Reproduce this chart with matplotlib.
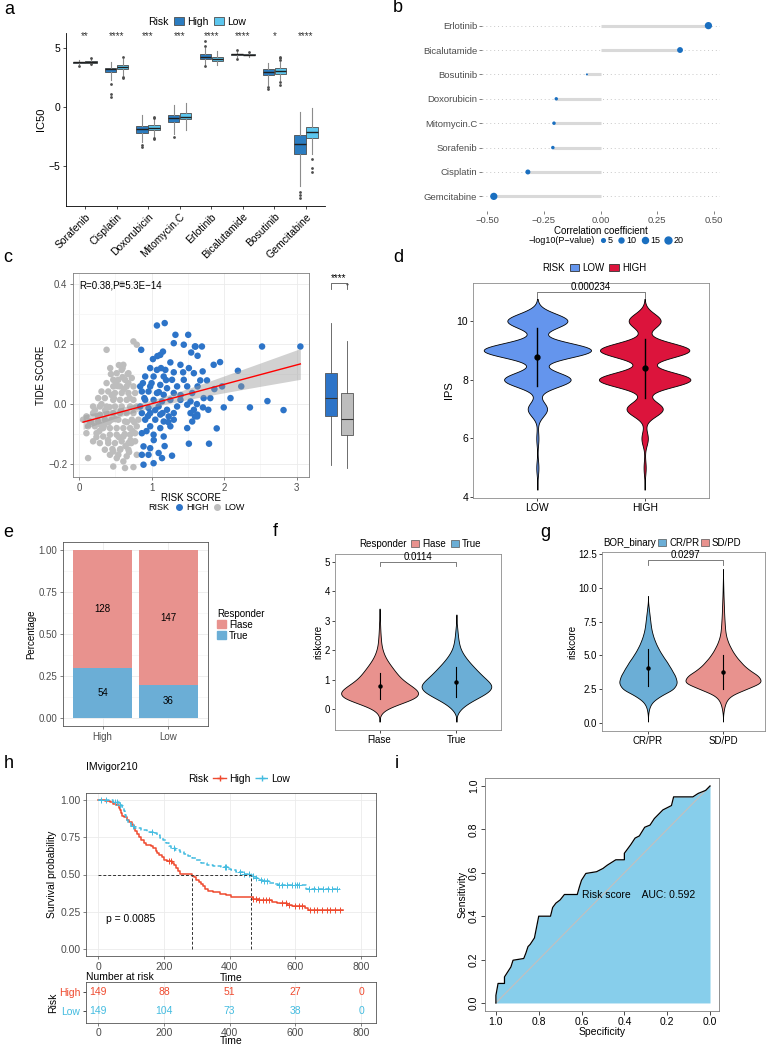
import matplotlib.pyplot as plt
import numpy as np
from matplotlib.patches import Patch
from matplotlib.lines import Line2D
from matplotlib.ticker import MultipleLocator

plt.rcParams['font.family'] = ['Liberation Sans', 'DejaVu Sans']
plt.rcParams['font.size'] = 7
plt.rcParams['axes.linewidth'] = 0.6
plt.rcParams['xtick.major.width'] = 0.5
plt.rcParams['ytick.major.width'] = 0.5
plt.rcParams['xtick.major.size'] = 2.5
plt.rcParams['ytick.major.size'] = 2.5
plt.rcParams['xtick.major.pad'] = 1.5
plt.rcParams['ytick.major.pad'] = 1.5
plt.rcParams['axes.labelpad'] = 2

# ---------------- data ----------------
# a: IC50 boxplots (whislo, q1, median, q3, whishi)
a_drugs = ['Sorafenib', 'Cisplatin', 'Doxorubicin', 'Mitomycin.C', 'Erlotinib',
           'Bicalutamide', 'Bosutinib', 'Gemcitabine']
a_high_stats = [(3.65, 3.75, 3.8, 3.87, 4.0), (2.3, 2.95, 3.2, 3.35, 3.85),
                (-3.0, -2.2, -1.85, -1.6, -0.7), (-2.3, -1.3, -0.95, -0.7, 0.15),
                (3.6, 4.1, 4.3, 4.5, 5.0), (4.2, 4.42, 4.5, 4.55, 4.75),
                (1.9, 2.7, 3.0, 3.25, 3.75), (-6.7, -4.0, -3.1, -2.35, -0.4)]
a_high_out = [[3.5], [2.0, 1.1, 0.9], [-3.2, -3.35], [-2.5], [5.2, 5.6, 3.5],
              [4.85, 4.1], [1.7, 1.5], [-7.2, -7.45, -7.7]]
a_low_stats = [(3.6, 3.78, 3.85, 3.92, 4.1), (2.7, 3.2, 3.4, 3.55, 4.1),
               (-2.5, -1.95, -1.75, -1.55, -1.0), (-1.9, -1.05, -0.8, -0.5, 0.35),
               (3.6, 3.95, 4.1, 4.25, 4.8), (4.3, 4.4, 4.45, 4.5, 4.6),
               (2.3, 2.85, 3.05, 3.3, 3.8), (-4.0, -2.65, -2.15, -1.65, -0.1)]
a_low_out = [[4.2, 3.7], [4.3, 2.6, 2.5], [-0.85, -0.95, -2.6, -2.7], [], [],
             [4.7], [4.0, 4.2, 4.3, 2.1, 1.9], [-4.4, -5.2, -5.5]]
a_sig = ['**', '****', '***', '***', '****', '****', '*', '****']

# b: correlation lollipop (bottom to top)
b_drugs = ['Gemcitabine', 'Cisplatin', 'Sorafenib', 'Mitomycin.C', 'Doxorubicin',
           'Bosutinib', 'Bicalutamide', 'Erlotinib']
b_cor = [-0.47, -0.32, -0.21, -0.205, -0.195, -0.06, 0.35, 0.475]
b_logp = [22, 10, 4.5, 4.5, 4.2, 1.0, 14, 22]
b_legend_sizes = [5, 10, 15, 20]

# c: risk score vs TIDE score
c_high_risk = [1.074, 1.181, 1.329, 1.505, 1.306, 1.444, 1.606, 1.546, 1.157, 1.120,
               0.857, 1.019, 1.259, 1.398, 1.514, 0.981, 1.074, 1.190, 1.306, 1.435,
               1.583, 0.912, 1.028, 1.167, 1.282, 1.444, 0.843, 0.981, 1.120, 1.213,
               1.352, 1.491, 0.866, 0.958, 1.074, 1.167, 1.306, 1.560, 0.912, 1.028,
               1.144, 1.259, 1.398, 1.537, 0.843, 0.958, 1.097, 1.213, 1.352, 1.491,
               1.583, 0.866, 0.981, 1.120, 1.236, 1.306, 1.537, 1.630, 0.912, 1.051,
               1.167, 1.306, 0.981, 1.120, 1.259, 1.491, 0.866, 1.028, 1.167, 0.889,
               0.981, 1.097, 1.514, 0.866, 0.958, 1.144, 1.282, 0.889, 1.028, 1.630,
               1.560, 1.597, 1.694, 2.523, 3.051, 1.634, 1.704, 1.856, 1.944, 2.190,
               1.671, 1.764, 1.634, 1.866, 1.972, 2.236, 1.718, 1.810, 2.088, 2.597,
               1.625, 1.708, 1.782, 1.995, 2.356, 2.819, 1.597, 1.898, 1.792,
               0.90, 0.95, 1.00, 1.05, 1.10, 1.15, 1.20, 0.93, 1.03, 1.13, 1.23, 0.88,
               1.08, 1.18, 1.40]
c_high_tide = [0.262, 0.270, 0.231, 0.231, 0.203, 0.198, 0.192, 0.172, 0.175, 0.164,
               0.181, 0.150, 0.139, 0.131, 0.120, 0.120, 0.114, 0.114, 0.106, 0.106,
               0.103, 0.092, 0.092, 0.092, 0.081, 0.081, 0.059, 0.059, 0.064, 0.053,
               0.059, 0.059, 0.042, 0.042, 0.037, 0.031, 0.037, 0.037, 0.014, 0.014,
               0.009, 0.014, 0.014, 0.009, -0.008, -0.013, -0.008, -0.019, -0.008, -0.002,
               -0.019, -0.030, -0.030, -0.035, -0.041, -0.030, -0.030, -0.035, -0.052, -0.052,
               -0.058, -0.052, -0.074, -0.080, -0.074, -0.080, -0.097, -0.102, -0.108, -0.141,
               -0.147, -0.163, -0.132, -0.169, -0.169, -0.180, -0.172, -0.202, -0.197, -0.041,
               -0.058, 0.192, 0.192, 0.192, 0.192, 0.161, 0.109, 0.131, 0.140, 0.111,
               0.079, 0.079, 0.059, 0.050, 0.059, 0.059, 0.020, 0.020, 0.020, 0.010,
               0.000, -0.011, -0.019, -0.011, -0.011, -0.020, -0.041, -0.081, -0.132,
               0.02, -0.04, 0.07, -0.02, 0.04, -0.03, 0.08, -0.09, -0.12, 0.12, -0.06, 0.07,
               0.16, -0.14, 0.03]
c_low_risk = [0.750, 0.380, 0.796, 0.611, 0.519, 0.588, 0.681, 0.472, 0.542, 0.634,
              0.727, 0.380, 0.472, 0.565, 0.657, 0.750, 0.310, 0.403, 0.495, 0.588,
              0.681, 0.773, 0.264, 0.356, 0.472, 0.565, 0.657, 0.750, 0.194, 0.287,
              0.380, 0.495, 0.588, 0.704, 0.796, 0.102, 0.194, 0.287, 0.380, 0.472,
              0.565, 0.657, 0.750, 0.056, 0.148, 0.264, 0.356, 0.449, 0.542, 0.634,
              0.727, 0.819, 0.125, 0.218, 0.333, 0.426, 0.519, 0.611, 0.704, 0.796,
              0.102, 0.241, 0.333, 0.426, 0.519, 0.611, 0.704, 0.773, 0.194, 0.287,
              0.403, 0.495, 0.588, 0.681, 0.773, 0.356, 0.472, 0.565, 0.681, 0.426,
              0.542, 0.657, 0.796, 0.125, 0.472, 0.750, 0.634, 0.611, 0.590,
              0.22, 0.26, 0.31, 0.35, 0.42, 0.45, 0.50, 0.53, 0.58, 0.62, 0.66, 0.70,
              0.74, 0.78, 0.28, 0.40, 0.44, 0.48, 0.55, 0.60, 0.64, 0.68, 0.72, 0.36,
              0.41, 0.52, 0.57, 0.63, 0.69, 0.76, 0.17, 0.24, 0.30, 0.46, 0.51, 0.60,
              0.67, 0.71, 0.55, 0.43]
c_low_tide = [0.209, 0.181, 0.198, 0.131, 0.103, 0.114, 0.103, 0.081, 0.081, 0.081,
              0.087, 0.070, 0.059, 0.059, 0.059, 0.059, 0.042, 0.042, 0.037, 0.037,
              0.037, 0.037, 0.020, 0.020, 0.014, 0.014, 0.014, 0.014, -0.008, -0.008,
              -0.008, -0.008, -0.008, -0.008, -0.008, -0.041, -0.030, -0.035, -0.030, -0.030,
              -0.030, -0.030, -0.030, -0.052, -0.058, -0.058, -0.052, -0.052, -0.052, -0.058,
              -0.052, -0.052, -0.074, -0.074, -0.080, -0.080, -0.080, -0.080, -0.080, -0.074,
              -0.097, -0.097, -0.108, -0.102, -0.102, -0.108, -0.102, -0.097, -0.124, -0.130,
              -0.130, -0.130, -0.124, -0.130, -0.124, -0.152, -0.158, -0.152, -0.152, -0.169,
              -0.169, -0.174, -0.169, -0.180, -0.208, -0.210, -0.213, -0.191, 0.400,
              -0.02, -0.04, 0.00, -0.07, -0.01, 0.03, -0.05, 0.06, -0.02, 0.05, -0.06, 0.02,
              -0.09, -0.01, -0.09, -0.12, 0.10, 0.02, -0.11, 0.09, -0.14, 0.07, -0.13, -0.02,
              -0.06, -0.18, -0.15, -0.10, -0.16, -0.06, -0.06, -0.11, -0.07, -0.15, 0.07,
              0.12, 0.10, -0.12, 0.13, 0.12]

# d: IPS counts per score
d_scores = [5, 6, 7, 8, 9, 10]
d_low_counts = [1, 1, 9, 31, 50, 28]
d_high_counts = [1, 3, 17, 43, 42, 15]

# e: responders
e_groups = ['High', 'Low']
e_true = [54, 36]
e_false = [128, 147]

# f: riskscore by responder (binned counts)
f_bins = [0.0, 0.2, 0.4, 0.6, 0.8, 1.0, 1.2, 1.4, 1.6, 1.8, 2.0, 2.2, 2.4, 2.6, 2.8, 3.0]
f_false_counts = [6, 24, 44, 46, 36, 26, 20, 15, 10, 6, 3.5, 2, 1.5, 1, 0.7, 0.5]
f_true_counts = [4, 12, 24, 36, 40, 33, 26, 20, 14, 9, 5, 3, 2, 1.3, 0.8, 0]
f_mean = [0.79, 0.94]
f_lo = [0.34, 0.43]
f_hi = [1.25, 1.45]

# g: riskscore by BOR
g_bins = [1.0, 1.5, 2.0, 2.5, 3.0, 3.5, 4.0, 4.5, 5.0, 5.5, 6.0, 6.5, 7.0, 7.5,
          8.0, 8.5, 9.0, 9.5, 10.0, 10.5]
g_crpr_counts = [1, 4, 15, 33, 37, 34, 29, 24, 18, 13, 9, 6, 4, 3, 2, 1, 0, 0, 0, 0]
g_sdpd_counts = [1, 3, 8, 28, 50, 44, 30, 22, 15, 10, 6, 3.5, 2.5, 2, 1.5, 1.2, 0.9, 0.6, 0.4, 0.2]
g_mean = [4.09, 3.75]
g_lo = [2.7, 2.5]
g_hi = [5.47, 5.0]

# h: Kaplan-Meier (IMvigor210)
h_high_t = [0, 20, 35, 45, 55, 62, 66, 70, 72, 78, 88, 95, 102, 108, 112, 118, 123, 130,
            138, 145, 160, 168, 175, 180, 186, 193, 200, 210, 225, 232, 238, 244, 250,
            284, 292, 298, 306, 312, 318, 326, 335, 350, 370, 390, 405, 460, 470, 490,
            530, 545, 575, 590, 630, 638, 744]
h_high_s = [1.0, 0.993, 0.986, 0.979, 0.966, 0.952, 0.938, 0.918, 0.898, 0.885, 0.871,
            0.857, 0.837, 0.816, 0.796, 0.776, 0.755, 0.735, 0.714, 0.70, 0.693, 0.68,
            0.66, 0.645, 0.63, 0.615, 0.60, 0.59, 0.58, 0.565, 0.545, 0.525, 0.505,
            0.49, 0.48, 0.465, 0.45, 0.435, 0.42, 0.405, 0.39, 0.38, 0.37, 0.36, 0.35,
            0.345, 0.335, 0.325, 0.315, 0.305, 0.295, 0.285, 0.275, 0.258, 0.258]
h_low_t = [0, 45, 62, 72, 78, 82, 86, 92, 100, 110, 130, 150, 168, 180, 188, 196, 205,
           214, 222, 235, 250, 262, 272, 285, 298, 312, 330, 350, 375, 395, 405, 420,
           440, 465, 475, 490, 505, 520, 535, 548, 632, 734]
h_low_s = [1.0, 0.986, 0.972, 0.958, 0.93, 0.90, 0.87, 0.85, 0.83, 0.815, 0.80, 0.79,
           0.78, 0.765, 0.745, 0.73, 0.71, 0.695, 0.68, 0.665, 0.655, 0.64, 0.625, 0.61,
           0.595, 0.58, 0.565, 0.555, 0.55, 0.54, 0.53, 0.515, 0.505, 0.49, 0.475,
           0.465, 0.455, 0.445, 0.435, 0.43, 0.40, 0.40]
h_high_cens = [215, 220, 470, 480, 490, 500, 510, 520, 560, 570, 580, 600, 610, 620,
               645, 655, 665, 680, 695, 705, 720, 735]
h_low_cens = [10, 25, 50, 58, 65, 105, 165, 230, 385, 390, 430, 445, 460, 470, 480,
              495, 505, 515, 550, 560, 575, 590, 600, 605, 610, 640, 655, 670, 685,
              700, 710, 725]
h_tab_times = [0, 200, 400, 600, 800]
h_tab_high = [149, 88, 51, 27, 0]
h_tab_low = [149, 104, 73, 38, 0]

# i: ROC
i_spec = [1.0, 1.0, 0.99, 0.96, 0.96, 0.93, 0.92, 0.87, 0.86, 0.85, 0.84, 0.82, 0.81,
          0.80, 0.745, 0.735, 0.72, 0.70, 0.68, 0.62, 0.61, 0.60, 0.58, 0.53, 0.50,
          0.48, 0.44, 0.40, 0.40, 0.37, 0.35, 0.33, 0.305, 0.28, 0.26, 0.22, 0.18,
          0.17, 0.08, 0.055, 0.02, 0.0]
i_sens = [0.0, 0.035, 0.09, 0.09, 0.12, 0.166, 0.197, 0.205, 0.23, 0.26, 0.27, 0.30,
          0.35, 0.40, 0.40, 0.44, 0.46, 0.475, 0.50, 0.50, 0.535, 0.566, 0.597, 0.605,
          0.62, 0.635, 0.66, 0.66, 0.69, 0.73, 0.76, 0.77, 0.81, 0.82, 0.85, 0.89,
          0.91, 0.95, 0.95, 0.966, 0.98, 1.0]

# colours
a_colors = ['#2b7cc0', '#5cc6ee']
b_color = '#1a6fc0'
c_blue, c_gray = '#2d74c8', '#bdbdbd'
d_colors = ['#6495ED', '#DC143C']
pink, lblue = '#E8928E', '#6BAED6'
h_red, h_cyan = '#EF4A2F', '#44BCE0'

# ---------------- helpers ----------------
W, H = 766, 1047
fig = plt.figure(figsize=(W / 100, H / 100), dpi=100)


def px_axes(l, t, r, b):
    return fig.add_axes([l / W, 1 - b / H, (r - l) / W, (b - t) / H])


def inline_legend(ax, title, handles, labels, x, y, **kw):
    blank = Line2D([], [], linestyle='none')
    opts = dict(loc='center', bbox_to_anchor=(x, y), ncol=len(handles) + 1, frameon=False,
                handlelength=1.0, handletextpad=0.3, columnspacing=0.5,
                borderaxespad=0, borderpad=0, fontsize=7)
    opts.update(kw)
    return ax.legend([blank] + handles, [title] + labels, **opts)


def kde(centers, counts, bw):
    c = np.asarray(centers, float)
    w = np.asarray(counts, float)
    used = c[w > 0]
    grid = np.linspace(used.min() - 3 * bw, used.max() + 3 * bw, 400)
    dens = (w * np.exp(-0.5 * ((grid[:, None] - c) / bw) ** 2)).sum(axis=1)
    return grid, dens / (w.sum() * bw * np.sqrt(2 * np.pi))


def violins(ax, groups, colors, bw, half=0.5):
    curves = [kde(c, w, bw) for c, w in groups]
    k = half / max(d.max() for _, d in curves)
    for i, ((g, d), col) in enumerate(zip(curves, colors)):
        ax.fill_betweenx(g, i + 1 - d * k, i + 1 + d * k, facecolor=col,
                         edgecolor='black', linewidth=0.6)


def gray_frame(ax, color='#8c8c8c'):
    for s in ax.spines.values():
        s.set_color(color)


def bracket(ax, x1, x2, y, drop, label, color='#555555'):
    ax.plot([x1, x1, x2, x2], [y - drop, y, y, y - drop], color=color, lw=0.6)
    ax.text((x1 + x2) / 2, y, label, ha='center', va='bottom', fontsize=7)


def panel_letter(x, y, s):
    fig.text(x / W, 1 - y / H, s, fontsize=13, va='center', ha='left')


# ---------------- panel a ----------------
ax = px_axes(66, 33, 325, 206)
pos = np.arange(len(a_drugs))
for rows, outs, off, col in [(a_high_stats, a_high_out, -0.19, a_colors[0]),
                             (a_low_stats, a_low_out, 0.19, a_colors[1])]:
    st = [dict(whislo=r[0], q1=r[1], med=r[2], q3=r[3], whishi=r[4], fliers=o)
          for r, o in zip(rows, outs)]
    ax.bxp(st, positions=pos + off, widths=0.36, patch_artist=True, showcaps=False,
           boxprops=dict(facecolor=col, edgecolor='#4d4d4d', linewidth=0.6),
           medianprops=dict(color='#1f1f1f', linewidth=1.0),
           whiskerprops=dict(color='#8c8c8c', linewidth=0.8),
           flierprops=dict(marker='o', markersize=2, markerfacecolor='#4d4d4d',
                           markeredgecolor='none'))
for i, s in enumerate(a_sig):
    ax.text(i, 6.0, s, ha='center', va='center', fontsize=7, color='#333333')
ax.set_xlim(-0.6, 7.6)
ax.set_ylim(-8.4, 6.3)
ax.set_xticks(pos)
ax.set_xticklabels(a_drugs, rotation=45, ha='right', rotation_mode='anchor', fontsize=7.5)
ax.set_yticks([-5, 0, 5])
ax.tick_params(labelsize=7.5)
ax.set_ylabel('IC50', fontsize=8)
ax.spines['top'].set_visible(False)
ax.spines['right'].set_visible(False)
inline_legend(ax, 'Risk', [Patch(facecolor=c, edgecolor='#4d4d4d', lw=0.6) for c in a_colors],
              ['High', 'Low'], 0.48, 1.065, fontsize=7.5)

# ---------------- panel b ----------------
ax = px_axes(482, 11, 720, 211)
yb = np.arange(len(b_drugs))
for y in yb:
    ax.axhline(y, color='#c8c8c8', ls=(0, (1, 3)), lw=0.7, zorder=0)
ax.hlines(yb, 0, b_cor, color='#d9d9d9', lw=2.2, zorder=1)
size = lambda v: 1.2 * np.asarray(v, float) + 1
ax.scatter(b_cor, yb, s=size(b_logp), color=b_color, edgecolors='none', zorder=2)
ax.set_ylim(-0.6, 7.6)
ax.set_xlim(-0.522, 0.526)
ax.set_yticks(yb)
ax.set_yticklabels(b_drugs, fontsize=6.8, color='#4d4d4d')
ax.set_xticks([-0.5, -0.25, 0, 0.25, 0.5])
ax.set_xticklabels(['\u22120.50', '\u22120.25', '0.00', '0.25', '0.50'], fontsize=6.8,
                   color='#4d4d4d')
ax.tick_params(length=2, color='#4d4d4d')
for s in ax.spines.values():
    s.set_visible(False)
ax.set_xlabel('Correlation coefficient', fontsize=7, labelpad=1)
size_handles = [Line2D([], [], linestyle='none', marker='o', color=b_color,
                       markersize=np.sqrt(size(v))) for v in b_legend_sizes]
inline_legend(ax, '\u2212log10(P\u2212value)', size_handles, [str(v) for v in b_legend_sizes],
              0.5, -0.148, fontsize=6.5, handletextpad=0.1, columnspacing=0.4)

# ---------------- panel c ----------------
ax = px_axes(73, 273, 309, 477)
ax.set_xlim(-0.083, 3.17)
ax.set_ylim(-0.243, 0.437)
ax.xaxis.set_minor_locator(MultipleLocator(0.5))
ax.yaxis.set_minor_locator(MultipleLocator(0.1))
ax.grid(True, which='major', color='#ebebeb', lw=0.6)
ax.grid(True, which='minor', color='#f4f4f4', lw=0.5)
ax.set_axisbelow(True)
ax.tick_params(which='minor', length=0)
ax.scatter(c_low_risk, c_low_tide, s=22, color=c_gray, edgecolors='none', zorder=2)
ax.scatter(c_high_risk, c_high_tide, s=22, color=c_blue, edgecolors='none', zorder=2)
allx = np.r_[c_high_risk, c_low_risk]
ally = np.r_[c_high_tide, c_low_tide]
slope, icpt = np.polyfit(allx, ally, 1)
xs = np.linspace(allx.min(), allx.max(), 100)
fit = icpt + slope * xs
resid = ally - (icpt + slope * allx)
s_err = np.sqrt((resid ** 2).sum() / (len(allx) - 2))
ci = 1.97 * s_err * np.sqrt(1 / len(allx) + (xs - allx.mean()) ** 2 / ((allx - allx.mean()) ** 2).sum())
ax.fill_between(xs, fit - ci, fit + ci, color='#999999', alpha=0.45, lw=0, zorder=3)
ax.plot(xs, fit, color='red', lw=1, zorder=4)
ax.text(0.0, 0.395, 'R=0.38,P=5.3E\u221214', fontsize=7, va='center')
ax.set_xticks([0, 1, 2, 3])
ax.set_yticks([-0.2, 0.0, 0.2, 0.4])
ax.tick_params(labelsize=7, colors='#4d4d4d')
ax.set_xlabel('RISK SCORE', fontsize=7, labelpad=0)
ax.set_ylabel('TIDE SCORE', fontsize=7)
gray_frame(ax, '#7f7f7f')
inline_legend(ax, 'RISK', [Line2D([], [], ls='none', marker='o', color=c, markersize=4)
                           for c in (c_blue, c_gray)], ['HIGH', 'LOW'], 0.5, -0.148,
              fontsize=6.5)

axb = px_axes(315, 273, 363, 477)
bp = axb.boxplot([c_high_tide, c_low_tide], positions=[1, 2], widths=0.75,
                 patch_artist=True, showcaps=False,
                 medianprops=dict(color='#333333', lw=0.8),
                 whiskerprops=dict(color='#555555', lw=0.6),
                 flierprops=dict(marker='o', markersize=1.5, markerfacecolor='#333333',
                                 markeredgecolor='none'))
for patch, col in zip(bp['boxes'], [c_blue, c_gray]):
    patch.set_facecolor(col)
    patch.set_edgecolor('#555555')
    patch.set_linewidth(0.6)
axb.set_xlim(0, 3)
axb.set_ylim(-0.243, 0.437)
bracket(axb, 1, 2, 0.405, 0.02, '****')
axb.axis('off')

# ---------------- panel d ----------------
ax = px_axes(473, 283, 709, 498)
violins(ax, [(d_scores, d_low_counts), (d_scores, d_high_counts)], d_colors, bw=0.25)
for i, cnt in enumerate([d_low_counts, d_high_counts]):
    w = np.asarray(cnt, float)
    v = np.asarray(d_scores, float)
    m = (w * v).sum() / w.sum()
    sd = np.sqrt((w * (v - m) ** 2).sum() / (w.sum() - 1))
    ax.plot([i + 1, i + 1], [m - sd, m + sd], color='black', lw=1)
    ax.plot(i + 1, m, 'o', color='black', ms=3.5)
bracket(ax, 1, 2, 10.98, 0.2, '0.000234', color='#666666')
ax.set_xlim(0.4, 2.6)
ax.set_ylim(3.97, 11.29)
ax.set_xticks([1, 2])
ax.set_xticklabels(['LOW', 'HIGH'], fontsize=7)
ax.set_yticks([4, 6, 8, 10])
ax.tick_params(labelsize=7.5, length=2)
ax.set_ylabel('IPS', fontsize=8)
gray_frame(ax)
inline_legend(ax, 'RISK', [Patch(facecolor=c, edgecolor='#333333', lw=0.6) for c in d_colors],
              ['LOW', 'HIGH'], 0.487, 1.07, fontsize=7)

# ---------------- panel e ----------------
ax = px_axes(63, 542, 208, 726)
xe = np.arange(1, len(e_groups) + 1)
tot = np.asarray(e_true) + np.asarray(e_false)
tf = np.asarray(e_true) / tot
ff = np.asarray(e_false) / tot
ax.yaxis.set_minor_locator(MultipleLocator(0.125))
ax.grid(True, which='major', color='#ebebeb', lw=0.6)
ax.grid(True, which='minor', axis='y', color='#f4f4f4', lw=0.5)
ax.set_axisbelow(True)
ax.tick_params(which='minor', length=0)
ax.bar(xe, tf, width=0.9, color=lblue)
ax.bar(xe, ff, width=0.9, bottom=tf, color=pink)
for x, t, f, nt, nf in zip(xe, tf, ff, e_true, e_false):
    ax.text(x, t / 2, str(nt), ha='center', va='center', fontsize=7)
    ax.text(x, t + f / 2, str(nf), ha='center', va='center', fontsize=7)
ax.set_xlim(0.4, 2.6)
ax.set_ylim(-0.05, 1.05)
ax.set_xticks(xe)
ax.set_xticklabels(e_groups)
ax.set_yticks([0, 0.25, 0.5, 0.75, 1.0])
ax.set_yticklabels(['0.00', '0.25', '0.50', '0.75', '1.00'])
ax.tick_params(labelsize=7, colors='#4d4d4d')
ax.set_ylabel('Percentage', fontsize=7)
gray_frame(ax, '#555555')
ax.legend([Patch(color=pink), Patch(color=lblue)], ['Flase', 'True'], title='Responder',
          loc='center left', bbox_to_anchor=(1.03, 0.55), frameon=False, fontsize=7,
          title_fontsize=7, handlelength=0.9, handleheight=0.9, handletextpad=0.3,
          labelspacing=0.1, borderpad=0, alignment='left')

# ---------------- panel f ----------------
ax = px_axes(335, 554, 501, 730)
violins(ax, [(f_bins, f_false_counts), (f_bins, f_true_counts)], [pink, lblue], bw=0.14)
for i in range(2):
    ax.plot([i + 1, i + 1], [f_lo[i], f_hi[i]], color='black', lw=0.8)
    ax.plot(i + 1, f_mean[i], 'o', color='black', ms=2.2)
bracket(ax, 1, 2, 5.0, 0.15, '0.0114', color='#666666')
ax.set_xlim(0.42, 2.58)
ax.set_ylim(-0.7, 5.27)
ax.set_xticks([1, 2])
ax.set_xticklabels(['Flase', 'True'])
ax.set_yticks([0, 1, 2, 3, 4, 5])
ax.tick_params(labelsize=7, length=2)
ax.set_ylabel('riskcore', fontsize=7, labelpad=1)
gray_frame(ax)
inline_legend(ax, 'Responder', [Patch(facecolor=c, edgecolor='#555555', lw=0.5) for c in (pink, lblue)],
              ['Flase', 'True'], 0.48, 1.057, fontsize=7, handlelength=0.8)

# ---------------- panel g ----------------
ax = px_axes(602, 552, 765, 731)
violins(ax, [(g_bins, g_crpr_counts), (g_bins, g_sdpd_counts)], [lblue, pink], bw=0.3)
for i in range(2):
    ax.plot([i + 1, i + 1], [g_lo[i], g_hi[i]], color='black', lw=0.8)
    ax.plot(i + 1, g_mean[i], 'o', color='black', ms=2.2)
bracket(ax, 1, 2, 12.06, 0.35, '0.0297', color='#666666')
ax.set_xlim(0.387, 2.56)
ax.set_ylim(-0.6, 12.66)
ax.set_xticks([1, 2])
ax.set_xticklabels(['CR/PR', 'SD/PD'])
ax.set_yticks([0, 2.5, 5, 7.5, 10, 12.5])
ax.tick_params(labelsize=7, length=2)
ax.set_ylabel('riskcore', fontsize=7, labelpad=1)
gray_frame(ax)
inline_legend(ax, 'BOR_binary', [Patch(facecolor=c, edgecolor='#555555', lw=0.5) for c in (lblue, pink)],
              ['CR/PR', 'SD/PD'], 0.40, 1.05, fontsize=7, handlelength=0.8, columnspacing=0.2)

# ---------------- panel h ----------------
ax = px_axes(86, 793, 376, 956)
ax.grid(True, color='#ebebeb', lw=0.6)
ax.set_axisbelow(True)
ax.step(h_high_t, h_high_s, where='post', color=h_red, lw=1.1)
ax.step(h_low_t, h_low_s, where='post', color=h_cyan, lw=1.1, ls=(0, (3, 1.5)))


def surv_at(t, times, surv):
    idx = np.searchsorted(times, t, side='right') - 1
    return np.asarray(surv)[idx]


ax.plot(h_high_cens, surv_at(h_high_cens, h_high_t, h_high_s), '+', color=h_red, ms=4, mew=0.7)
ax.plot(h_low_cens, surv_at(h_low_cens, h_low_t, h_low_s), '+', color=h_cyan, ms=4, mew=0.7)
medians = [np.asarray(t)[np.argmax(np.asarray(s) <= 0.5)]
           for t, s in [(h_high_t, h_high_s), (h_low_t, h_low_s)]]
ax.hlines(0.5, 0, max(medians), color='#333333', ls=(0, (3, 2)), lw=0.7)
ax.vlines(medians, 0, 0.5, color='#333333', ls=(0, (3, 2)), lw=0.7)
ax.text(25, 0.2, 'p = 0.0085', fontsize=7.5, va='center')
ax.set_xlim(-37, 845)
ax.set_ylim(-0.05, 1.05)
ax.set_xticks([0, 200, 400, 600, 800])
ax.set_yticks([0, 0.25, 0.5, 0.75, 1.0])
ax.set_yticklabels(['0.00', '0.25', '0.50', '0.75', '1.00'])
ax.tick_params(labelsize=7.5, colors='#4d4d4d')
ax.set_ylabel('Survival probability', fontsize=7.5)
ax.set_xlabel('Time', fontsize=7.5, labelpad=1)
gray_frame(ax, '#555555')
ax.text(0, 1.16, 'IMvigor210', transform=ax.transAxes, fontsize=7.5, va='center')
ax.text(0, -0.13, 'Number at risk', transform=ax.transAxes, fontsize=7.5, va='center')
inline_legend(ax, 'Risk', [Line2D([], [], color=h_red, marker='+', ms=4, lw=1),
                           Line2D([], [], color=h_cyan, marker='+', ms=4, lw=1, ls='--')],
              ['High', 'Low'], 0.5, 1.086, fontsize=7.5, handlelength=1.2)

axt = px_axes(86, 982, 376, 1023)
for row, (vals, col) in enumerate([(h_tab_low, h_cyan), (h_tab_high, h_red)]):
    yrow = [0.29, 0.76][row]
    for t, v in zip(h_tab_times, vals):
        axt.text(t, yrow, str(v), color=col, ha='center', va='center', fontsize=7.5)
axt.set_xlim(-37, 845)
axt.set_ylim(0, 1)
axt.set_xticks(h_tab_times)
axt.set_yticks([0.29, 0.76])
axt.set_yticklabels(['Low', 'High'], fontsize=7.5)
for lab, col in zip(axt.get_yticklabels(), [h_cyan, h_red]):
    lab.set_color(col)
axt.tick_params(axis='x', labelsize=7.5, colors='#4d4d4d', pad=1)
axt.grid(True, axis='x', color='#ebebeb', lw=0.6)
axt.set_xlabel('Time', fontsize=7.5, labelpad=-1)
axt.set_ylabel('Risk', fontsize=7.5, labelpad=1)
gray_frame(axt, '#555555')

# ---------------- panel i ----------------
ax = px_axes(485, 778, 719, 1011)
ax.fill_between(i_spec, i_sens, 0, color='#87CEEB', lw=0)
ax.plot([1, 0], [0, 1], color='#c0c0c0', lw=0.9)
ax.plot(i_spec, i_sens, color='black', lw=0.9)
ax.text(0.6, 0.497, 'Risk score    AUC: 0.592', fontsize=7.5, ha='left', va='center')
ax.set_xlim(1.051, -0.042)
ax.set_ylim(-0.037, 1.037)
ax.set_xticks([1.0, 0.8, 0.6, 0.4, 0.2, 0.0])
ax.set_xticklabels(['1.0', '0.8', '0.6', '0.4', '0.2', '0.0'])
ax.set_yticks([0.0, 0.2, 0.4, 0.6, 0.8, 1.0])
ax.set_yticklabels(['0.0', '0.2', '0.4', '0.6', '0.8', '1.0'], rotation=90, va='center')
ax.tick_params(labelsize=7.5, length=3)
ax.set_xlabel('Specificity', fontsize=7.5, labelpad=0)
ax.set_ylabel('Sensitivity', fontsize=7.5, labelpad=1)
gray_frame(ax, '#7f7f7f')

# panel letters
for x, y, s in [(4, 10, 'a'), (393, 8, 'b'), (3, 258, 'c'), (393, 257, 'd'),
                (3, 533, 'e'), (273, 532, 'f'), (540, 533, 'g'), (4, 764, 'h'),
                (395, 764, 'i')]:
    panel_letter(x, y, s)

fig.savefig('out.png', dpi=100)
